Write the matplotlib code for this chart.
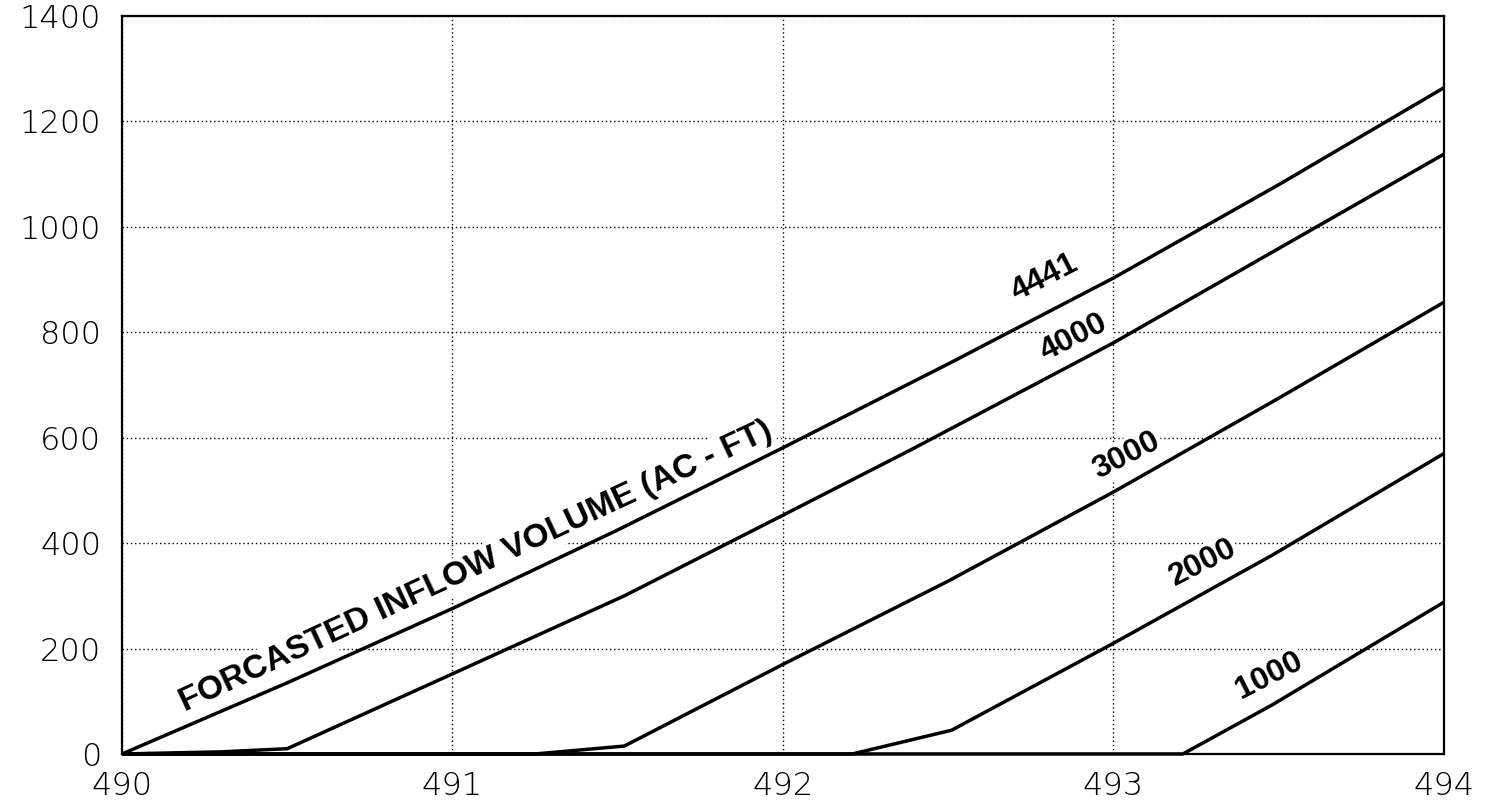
import matplotlib
matplotlib.use("Agg")
import matplotlib.pyplot as plt

# ---- data ----
x_4441 = [490.0, 490.5, 491.0, 491.5, 492.0, 492.5, 493.0, 493.5, 494.0]
y_4441 = [0, 135, 276, 425, 581, 740, 903, 1080, 1264]

x_4000 = [490.0, 490.3, 490.5, 491.0, 491.52, 492.0, 492.39, 493.0, 493.5, 494.0]
y_4000 = [0, 4, 10, 152, 300, 453, 578, 780, 959, 1138]

x_3000 = [490.0, 491.25, 491.52, 492.0, 492.5, 493.0, 493.5, 494.0]
y_3000 = [0, 0, 15, 170, 328, 497, 675, 857]

x_2000 = [490.0, 492.21, 492.51, 493.0, 493.48, 494.0]
y_2000 = [0, 0, 45, 210, 377, 570]

x_1000 = [490.0, 493.21, 493.48, 494.0]
y_1000 = [0, 0, 93, 288]

x_ticks = [490, 491, 492, 493, 494]
y_ticks = [0, 200, 400, 600, 800, 1000, 1200, 1400]

curve_labels = ["4441", "4000", "3000", "2000", "1000"]
label_pos = [(492.79, 903), (492.88, 789), (493.04, 565), (493.27, 362), (493.47, 148)]
title_text = "FORCASTED INFLOW VOLUME (AC - FT)"

# ---- figure ----
fig = plt.figure(figsize=(14.86, 8.02), dpi=100)
ax = fig.add_axes([0.0821, 0.0599, 0.8896, 0.9201])

series = [(x_4441, y_4441), (x_4000, y_4000), (x_3000, y_3000),
          (x_2000, y_2000), (x_1000, y_1000)]
for xs, ys in series:
    ax.plot(xs, ys, color="black", lw=2.5, solid_capstyle="butt", zorder=3,
            clip_on=False)

ax.set_xlim(490, 494)
ax.set_ylim(0, 1400)
ax.set_xticks(x_ticks)
ax.set_yticks(y_ticks)
ax.set_xticklabels([str(v) for v in x_ticks])
ax.set_yticklabels([str(v) for v in y_ticks])
ax.tick_params(length=0, labelsize=23, colors="black")
ax.tick_params(axis="y", pad=15)
ax.tick_params(axis="x", pad=12)
for lab in ax.get_xticklabels() + ax.get_yticklabels():
    lab.set_fontfamily("DejaVu Sans")
    lab.set_fontweight("light")

ax.grid(True, color="black", linestyle=(0, (1, 2)), lw=1.0, zorder=1)
ax.set_axisbelow(True)
for s in ax.spines.values():
    s.set_linewidth(1.6)
    s.set_color("black")

bbox = dict(facecolor="white", edgecolor="none", pad=1.5)
ax.text(491.07, 355, title_text, rotation=25, rotation_mode="anchor",
        ha="center", va="center", fontsize=24, fontweight="bold",
        family="Liberation Sans", bbox=bbox, zorder=2)

for lab, (lx, ly) in zip(curve_labels, label_pos):
    ax.text(lx, ly, lab, rotation=27, rotation_mode="anchor",
            ha="center", va="center", fontsize=23, fontweight="bold",
            family="Liberation Sans", bbox=bbox, zorder=2)

fig.savefig("out.png", dpi=100, facecolor="white")
